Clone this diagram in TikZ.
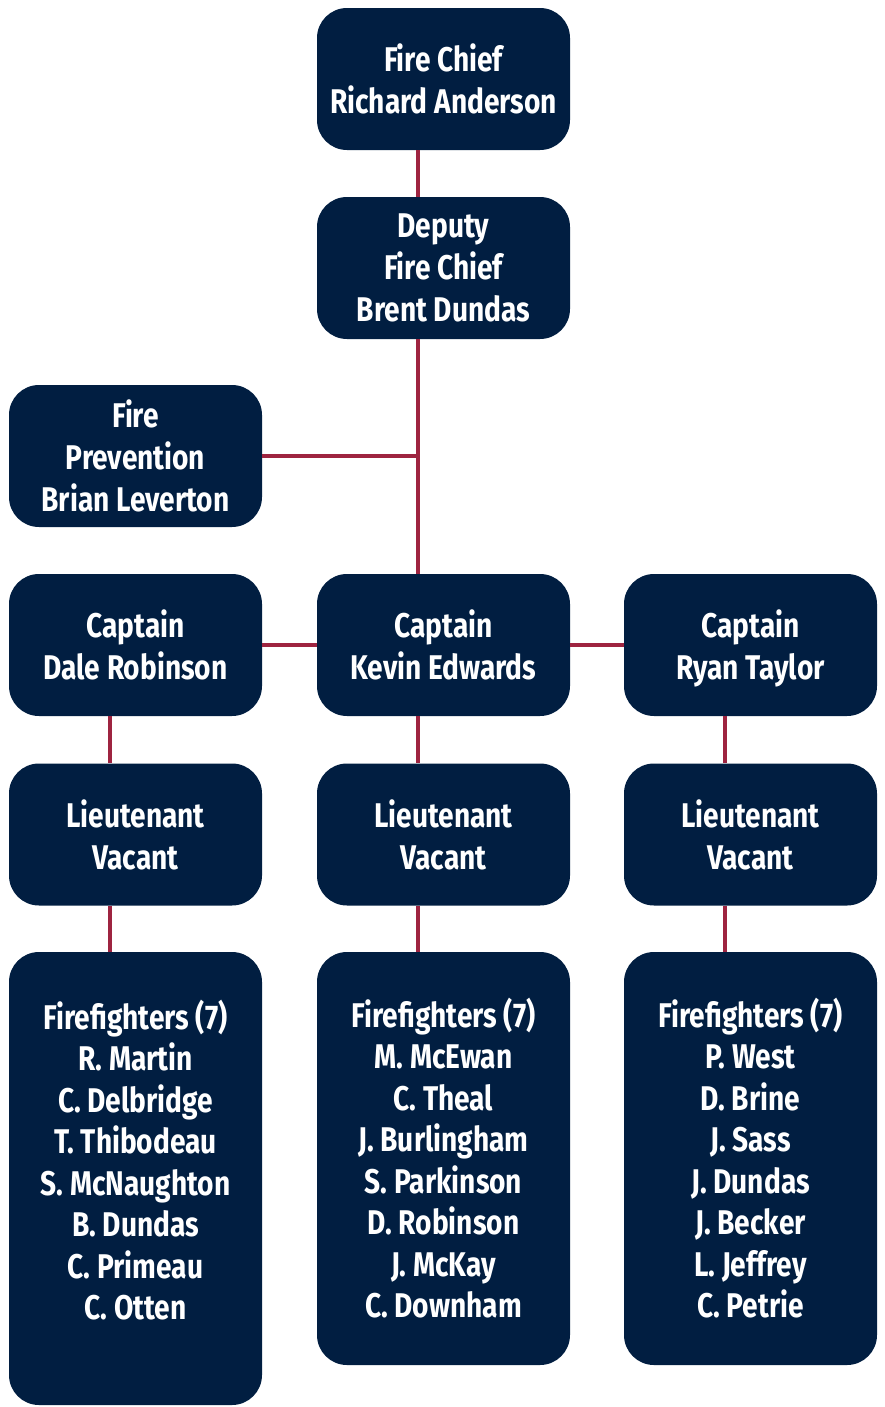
\documentclass[tikz,border=0pt]{standalone}
\usepackage{fontspec}
\setmainfont{Fira Sans}[FakeStretch=0.82]
\definecolor{navy}{RGB}{1,30,65}
\definecolor{crimson}{RGB}{158,36,64}
\begin{document}
\begin{tikzpicture}[
    post/.style={fill=navy,text=white,rounded corners=0.6cm,minimum width=5.06cm,minimum height=2.84cm,inner sep=0pt,align=center,font=\fontsize{19.5}{23.8}\selectfont\bfseries},
    crew/.style={post,minimum height=8.26cm},
    names/.style={text=white,align=center,inner sep=0pt,font=\fontsize{19.5}{23.6}\selectfont\bfseries},
    link/.style={draw=crimson,line width=2.6pt}
  ]
    \useasboundingbox (0,0) rectangle (17.7,-28.14);
    \coordinate (trunk) at (8.36,0);
    \coordinate (colL) at (2.2,0);
    \coordinate (colR) at (14.5,0);

    \node[post] (chief) at (8.87,-1.58) {Fire Chief\\Richard Anderson};
    \node[post] (deputy) at (8.87,-5.36) {Deputy\\Fire Chief\\Brent Dundas};
    \node[post] (prev) at (2.71,-9.12) {Fire\\Prevention\\Brian Leverton};

    \node[post] (capL) at (2.71,-12.9) {Captain\\Dale Robinson};
    \node[post] (capM) at (8.87,-12.9) {Captain\\Kevin Edwards};
    \node[post] (capR) at (15.01,-12.9) {Captain\\\raisebox{0pt}[\height][0pt]{Ryan Taylor}};

    \node[post] (ltL) at (2.71,-16.69) {Lieutenant\\Vacant};
    \node[post] (ltM) at (8.87,-16.69) {Lieutenant\\Vacant};
    \node[post] (ltR) at (15.01,-16.69) {Lieutenant\\Vacant};

    \node[crew,minimum height=9.06cm] (ffL) at (2.71,-23.57) {};
    \node[crew] (ffM) at (8.87,-23.17) {};
    \node[crew] (ffR) at (15.01,-23.17) {};
    \node[names] (ffL-text) at (2.71,-23.2) {Firefighters (7)\\R. Martin\\C. Delbridge\\T. Thibodeau\\S. McNaughton\\B. Dundas\\C. Primeau\\C. Otten};
    \node[names] (ffM-text) at (8.87,-23.16) {Firefighters (7)\\M. McEwan\\C. Theal\\J. Burlingham\\S. Parkinson\\D. Robinson\\J. McKay\\C. Downham};
    \node[names] (ffR-text) at (15.01,-23.16) {Firefighters (7)\\P. West\\D. Brine\\J. Sass\\J. Dundas\\J. Becker\\L. Jeffrey\\C. Petrie};

    % connectors
    \path[link] (chief.south -| trunk) -- (deputy.north -| trunk);
    \path[link] (deputy.south -| trunk) -- (capM.north -| trunk);
    \path[link] (prev.east) -- (prev.east -| trunk);
    \path[link] (capL.east) -- (capM.west);
    \path[link] (capM.east) -- (capR.west);
    \path[link] (capL.south -| colL) -- (ltL.north -| colL);
    \path[link] (capM.south -| trunk) -- (ltM.north -| trunk);
    \path[link] (capR.south -| colR) -- (ltR.north -| colR);
    \path[link] (ltL.south -| colL) -- (ffL.north -| colL);
    \path[link] (ltM.south -| trunk) -- (ffM.north -| trunk);
    \path[link] (ltR.south -| colR) -- (ffR.north -| colR);
\end{tikzpicture}
\end{document}
